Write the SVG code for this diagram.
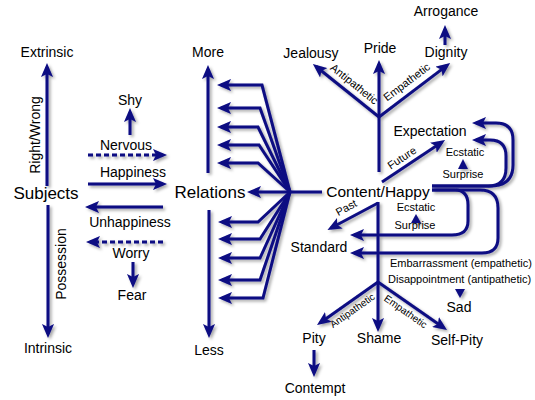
<svg xmlns="http://www.w3.org/2000/svg" width="535" height="400" viewBox="0 0 535 400">
<defs>
<marker id="ah" viewBox="0 0 14 12" refX="10" refY="6" markerWidth="14" markerHeight="12" markerUnits="userSpaceOnUse" orient="auto">
<path d="M0,0 L14,6 L0,12 L3,6 z" fill="#0a0a82"/>
</marker>
<filter id="sh" x="-20%" y="-20%" width="140%" height="140%">
<feDropShadow dx="2" dy="2" stdDeviation="1.5" flood-color="#000" flood-opacity="0.35"/>
</filter>
</defs>
<style>
text{font-family:"Liberation Sans",Arial,sans-serif;fill:#000;text-anchor:middle}
.n{font-size:14px}
.b{font-size:17px}
.s{font-size:11px}
.x{font-size:10px}
.c path,.c line,.c polyline{fill:none;stroke:#0a0a82;stroke-width:3}
.a{marker-end:url(#ah)}
.d{stroke-dasharray:5 3}
.t{fill:#0a0a82}
</style>
<rect width="535" height="400" fill="#fff"/>
<g id="connectors" class="c" filter="url(#sh)">
<line class="a" x1="47" y1="186" x2="47" y2="67"/>
<line class="a" x1="48" y1="205" x2="48" y2="334"/>
<line class="a" x1="130" y1="135" x2="130" y2="112"/>
<line class="a d" x1="88" y1="155" x2="163" y2="155"/>
<line class="a" x1="88" y1="184" x2="163" y2="184"/>
<line class="a" x1="163" y1="207" x2="89" y2="207"/>
<line class="a d" x1="163" y1="242" x2="90" y2="242"/>
<line class="a" x1="133" y1="262" x2="133" y2="284"/>
<line class="a" x1="208" y1="173" x2="208" y2="69"/>
<line class="a" x1="209" y1="210" x2="209" y2="334"/>
<polyline class="a" points="290,192 262,85 221,85"/>
<polyline class="a" points="290,192 260,108 221,108"/>
<polyline class="a" points="290,192 258,127 221,127"/>
<polyline class="a" points="290,192 259,145 221,145"/>
<polyline class="a" points="290,192 258,163 221,163"/>
<polyline class="a" points="290,192 258,222 222,222"/>
<polyline class="a" points="290,192 260,239 222,239"/>
<polyline class="a" points="290,192 260,258 222,258"/>
<polyline class="a" points="290,192 260,280 222,280"/>
<polyline class="a" points="290,192 263,298 222,298"/>
<line class="a" x1="290" y1="192" x2="251" y2="192"/>
<line x1="290" y1="192" x2="322" y2="192"/>
<line x1="379" y1="172" x2="379" y2="117"/>
<line class="a" x1="379" y1="117" x2="379" y2="64"/>
<line class="a" x1="379" y1="117" x2="316" y2="66.5"/>
<line class="a" x1="379" y1="117" x2="447" y2="65.4"/>
<line class="a" x1="445" y1="45" x2="445" y2="29"/>
<line class="a" x1="382" y1="182" x2="441.7" y2="142.2"/>
<line class="a" x1="378" y1="203" x2="331" y2="228"/>
<line x1="378" y1="202" x2="378" y2="282"/>
<line class="a" x1="378" y1="282" x2="320.3" y2="322.7"/>
<line class="a" x1="378" y1="282" x2="378" y2="328"/>
<line class="a" x1="378" y1="282" x2="443.7" y2="327.7"/>
<line class="a" x1="314" y1="350" x2="314" y2="373"/>
<path class="a" d="M432,186 L490,186 Q513,186 513,165 L513,140 Q513,123 496,123 L476,123"/>
<path class="a" d="M432,186 L488,186 Q506,186 506,168 L506,156 Q506,140 490,140 L476,140"/>
<path class="a" d="M432,190 L455,190 Q468,190 468,205 L468,221 Q468,235 452,235 L354,235"/>
<path class="a" d="M432,190 L480,190 Q498,190 498,208 L498,238 Q498,253 482,253 L354,253"/>
</g>
<g id="tri" filter="url(#sh)">
<polygon class="t" points="463,159 458,169 468,169"/>
<polygon class="t" points="416,214 411,223 421,223"/>
<polygon class="t" points="460,298 455,289 465,289"/>
</g>
<g id="extrinsic"><text class="n" x="47" y="57">Extrinsic</text></g>
<g id="intrinsic"><text class="n" x="48" y="353">Intrinsic</text></g>
<g id="subjects"><text class="b" x="46" y="199">Subjects</text></g>
<g id="rightwrong"><text class="n" transform="translate(40,135) rotate(-90)">Right/Wrong</text></g>
<g id="possession"><text class="n" transform="translate(66,264) rotate(-90)">Possession</text></g>
<g id="shy"><text class="n" x="130" y="105">Shy</text></g>
<g id="nervous"><text class="n" x="126" y="150">Nervous</text></g>
<g id="happiness"><text class="n" x="133" y="177">Happiness</text></g>
<g id="unhappiness"><text class="n" x="130" y="227">Unhappiness</text></g>
<g id="worry"><text class="n" x="131" y="258">Worry</text></g>
<g id="fear"><text class="n" x="132" y="300">Fear</text></g>
<g id="relations"><text class="b" x="210" y="198">Relations</text></g>
<g id="more"><text class="n" x="208" y="57">More</text></g>
<g id="less"><text class="n" x="209" y="355">Less</text></g>
<g id="content"><text x="378" y="197" style="font-size:15.5px">Content/Happy</text></g>
<g id="jealousy"><text class="n" x="311" y="58">Jealousy</text></g>
<g id="pride"><text class="n" x="380" y="53">Pride</text></g>
<g id="dignity"><text class="n" x="446" y="57">Dignity</text></g>
<g id="arrogance"><text class="n" x="446" y="16">Arrogance</text></g>
<g id="expectation"><text class="n" x="430" y="136">Expectation</text></g>
<g id="ecstatic1"><text class="s" x="465" y="156">Ecstatic</text><text class="s" x="463" y="178">Surprise</text></g>
<g id="ecstatic2"><text class="s" x="416" y="211">Ecstatic</text><text class="s" x="415" y="229">Surprise</text></g>
<g id="standard"><text class="n" x="319" y="252">Standard</text></g>
<g id="embarrassment"><text class="s" x="390" y="267" style="text-anchor:start">Embarrassment (empathetic)</text><text class="s" x="388" y="283" style="text-anchor:start">Disappointment (antipathetic)</text></g>
<g id="sad"><text class="n" x="459" y="312">Sad</text></g>
<g id="pity"><text class="n" x="314" y="343">Pity</text></g>
<g id="shame"><text class="n" x="379" y="343">Shame</text></g>
<g id="selfpity"><text class="n" x="457" y="345">Self-Pity</text></g>
<g id="contempt"><text class="n" x="315" y="393">Contempt</text></g>
<g id="labels">
<text class="s" transform="translate(352,87) rotate(38.8)" y="0">Antipathetic</text>
<text class="s" transform="translate(409,85) rotate(-37)" y="0">Empathetic</text>
<text class="s" transform="translate(404,161) rotate(-33.7)" y="0">Future</text>
<text class="s" transform="translate(348,211) rotate(-28)" y="0">Past</text>
<text class="x" transform="translate(352,310) rotate(-35)" y="4">Antipathetic</text>
<text class="x" transform="translate(406,311) rotate(35)" y="4">Empathetic</text>
</g>
</svg>
